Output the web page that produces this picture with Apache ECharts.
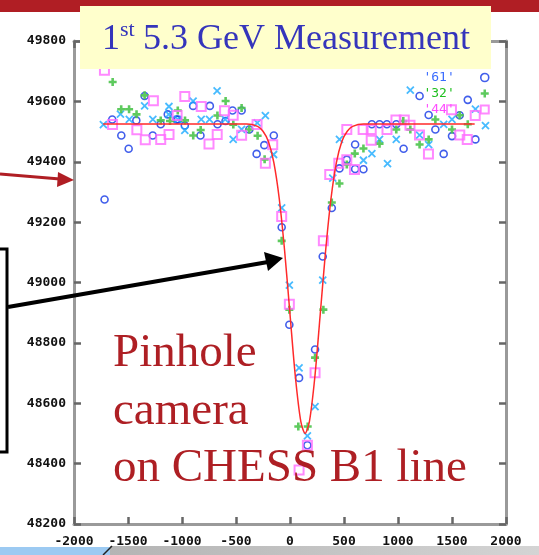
<!DOCTYPE html>
<html><head><meta charset="utf-8">
<script src="https://cdn.jsdelivr.net/npm/echarts@6/dist/echarts.min.js"></script>
<style>html,body{margin:0;padding:0;background:#fff}#c{width:539px;height:555px}</style>
</head><body><div id="c"></div>
<script>
// ---- data ----
const xTicks = [-2000, -1500, -1000, -500, 0, 500, 1000, 1500, 2000];
const yTicks = [48200, 48400, 48600, 48800, 49000, 49200, 49400, 49600, 49800];
const legendNames = ["'61'", "'32'", "'44'"];

const s61 = [ // blue circles
  [-1717,49275],[-1346,49618],[-1132,49557],[-1646,49540],[-1423,49537],[-1197,49524],[-1052,49540],
  [-1562,49487],[-1271,49487],[-1494,49443],[-897,49585],[-742,49585],[-532,49570],[-448,49570],
  [-1037,49540],[-671,49524],[-597,49535],[-974,49520],[-829,49487],[-238,49455],[-150,49487],
  [-309,49426],[-377,49507],[-77,49183],[-6,48860],[84,48684],[161,48461],[232,48778],[303,49086],
  [387,49247],[458,49378],[526,49407],[603,49376],[680,49375],[603,49457],[758,49524],[829,49524],
  [897,49524],[984,49524],[1052,49443],[1200,49618],[1646,49605],[1284,49555],[1571,49554],
  [1346,49507],[1500,49485],[1717,49474],[1423,49426]
];
const s32 = [ // green plus
  [-1642,49664],[-1346,49620],[-1563,49574],[-1490,49574],[-1421,49557],[-1197,49537],[-1111,49535],
  [-1039,49570],[-972,49537],[-596,49601],[-448,49578],[-672,49553],[-525,49523],[-377,49507],
  [-896,49487],[-827,49505],[-300,49486],[-235,49408],[-77,49138],[-6,48910],[77,48523],[164,48523],
  [232,48751],[309,48910],[387,49265],[458,49328],[526,49391],[600,49427],[680,49444],[829,49460],
  [984,49507],[1114,49507],[1049,49535],[1346,49540],[1500,49507],[1646,49524],[1284,49474],
  [1200,49457],[1571,49554]
];
const s44 = [ // magenta squares
  [-1718,49703],[-1265,49602],[-1045,49553],[-1643,49523],[-1418,49506],[-1340,49473],[-1197,49474],
  [-1120,49490],[-974,49616],[-822,49583],[-606,49569],[-526,49554],[-305,49523],[-674,49490],
  [-448,49488],[-750,49459],[-160,49456],[-228,49395],[-77,49219],[-6,48928],[84,48379],[161,48461],
  [232,48701],[309,49138],[368,49358],[452,49395],[526,49507],[526,49407],[597,49374],[677,49507],
  [752,49507],[752,49471],[898,49507],[981,49538],[1058,49538],[1495,49572],[1715,49553],[1111,49521],
  [1199,49489],[1572,49489],[1641,49474],[1282,49426]
];
const sX = [ // cyan crosses
  [-1346,49585],[-1121,49583],[-1570,49558],[-1728,49523],[-1488,49540],[-1270,49540],[-675,49635],
  [-897,49601],[-228,49553],[-1037,49540],[-822,49540],[-745,49540],[-600,49540],[-303,49529],
  [-974,49504],[-448,49507],[-526,49474],[-152,49424],[-77,49247],[-6,48991],[84,48717],[161,48492],
  [232,48589],[303,49008],[396,49346],[680,49405],[758,49427],[903,49394],[1114,49637],[829,49474],
  [984,49474],[458,49474],[1717,49574],[1423,49524],[1500,49540],[1810,49520],[1200,49488],[1284,49457],
  [-1123,49557]
];
const fitX = [-1730,-800,-400,-300,-250,-200,-150,-100,-50,0,50,100,140,180,230,280,330,380,430,480,530,580,680,1000,1710];
const fitY = [49525,49525,49525,49517,49501,49467,49398,49279,49106,48895,48687,48540,48500,48540,48687,48895,49106,49279,49398,49467,49501,49517,49525,49525,49525];

// ---- chart ----
const chart = echarts.init(document.getElementById('c'), null, {renderer:'canvas'});
const fit = fitX.map((x,i)=>[x,fitY[i]]);
const PLUS = 'path://M5,0L5,10M0,5L10,5';
const CROSS = 'path://M0,0L10,10M10,0L0,10';
const SQUARE = 'path://M0,0L10,0L10,10L0,10Z';
const lblFont = {fontFamily:'DejaVu Sans Mono', fontSize:13, color:'#111', fontWeight:'bold'};
const axLine = {show:true, onZero:false, lineStyle:{color:'#9a9a9a', width:3}};
const axTick = {show:true, inside:true, length:7, lineStyle:{color:'#666', width:2.5}};
const C61='#1236e6', C32='#4cc44c', C44='#ff6cff', CX='#1aaaff';

chart.setOption({
  animation:false,
  backgroundColor:'#ffffff',
  grid:{left:74, right:33, top:41, bottom:31, containLabel:false},
  xAxis:[
    {type:'value', min:xTicks[0], max:xTicks[xTicks.length-1], interval:500, position:'bottom',
     axisLine:axLine, axisTick:axTick, splitLine:{show:false},
     axisLabel:Object.assign({margin:11, formatter:v=>String(v)}, lblFont)},
    {type:'value', min:xTicks[0], max:xTicks[xTicks.length-1], interval:500, position:'top',
     axisLine:axLine, axisTick:axTick, splitLine:{show:false}, axisLabel:{show:false}}
  ],
  yAxis:[
    {type:'value', min:yTicks[0], max:yTicks[yTicks.length-1], interval:200, position:'left',
     axisLine:axLine, axisTick:axTick, splitLine:{show:false},
     axisLabel:Object.assign({margin:8, formatter:v=>String(v)}, lblFont)},
    {type:'value', min:yTicks[0], max:yTicks[yTicks.length-1], interval:200, position:'right',
     axisLine:axLine, axisTick:axTick, splitLine:{show:false}, axisLabel:{show:false}}
  ],
  legend:{
    orient:'vertical', right:44, top:66, align:'right', itemWidth:50, itemHeight:8, itemGap:3,
    selectedMode:false, symbolKeepAspect:true, textStyle:{fontFamily:'DejaVu Sans Mono', fontSize:13},
    data:[
      {name:legendNames[0], icon:'circle', textStyle:{color:'#3a6cff'}, itemStyle:{color:'transparent', borderColor:C61, borderWidth:1.6}},
      {name:legendNames[1], icon:PLUS, textStyle:{color:'#1fbf1f'}, itemStyle:{color:'transparent', borderColor:C32, borderWidth:2.5}},
      {name:legendNames[2], icon:SQUARE, textStyle:{color:'#ff4cff'}, itemStyle:{color:'transparent', borderColor:C44, borderWidth:2}}
    ]
  },
  series:[
    {name:legendNames[0], type:'scatter', data:s61, symbol:'circle', symbolSize:7,
     itemStyle:{color:'transparent', borderColor:C61, borderWidth:1.6}, z:3},
    {name:'x', type:'scatter', data:sX, symbol:CROSS, symbolSize:7,
     itemStyle:{color:'transparent', borderColor:CX, borderWidth:1.8}, z:3},
    {name:legendNames[1], type:'scatter', data:s32, symbol:PLUS, symbolSize:8,
     itemStyle:{color:'transparent', borderColor:C32, borderWidth:2.6, opacity:0.9}, z:3},
    {name:legendNames[2], type:'scatter', data:s44, symbol:'rect', symbolSize:9,
     itemStyle:{color:'transparent', borderColor:C44, borderWidth:2}, z:3},
    {name:'fit', type:'line', data:fit, smooth:0.3, symbol:'none',
     lineStyle:{color:'#ff2a2a', width:1.5}, z:4}
  ],
  graphic:[
    {type:'rect', z:100, shape:{x:0,y:0,width:539,height:12}, style:{fill:'#b01e24'}},
    {type:'rect', z:100, shape:{x:80,y:6,width:411,height:63}, style:{fill:'#ffffcc'}},
    {type:'text', z:101, style:{x:102, y:40, text:'1', font:'36px "Liberation Serif"', fill:'#3535bb', verticalAlign:'middle', textVerticalAlign:'middle'}},
    {type:'text', z:101, style:{x:120, y:30, text:'st', font:'22px "Liberation Serif"', fill:'#3535bb', verticalAlign:'middle', textVerticalAlign:'middle'}},
    {type:'text', z:101, style:{x:143, y:40, text:'5.3 GeV Measurement', font:'36px "Liberation Serif"', fill:'#3535bb', verticalAlign:'middle', textVerticalAlign:'middle'}},
    {type:'text', z:101, style:{x:113, y:354, text:'Pinhole', font:'47px "Liberation Serif"', fill:'#ae1f24', verticalAlign:'middle', textVerticalAlign:'middle'}},
    {type:'text', z:101, style:{x:113, y:412, text:'camera', font:'47px "Liberation Serif"', fill:'#ae1f24', verticalAlign:'middle', textVerticalAlign:'middle'}},
    {type:'text', z:101, style:{x:113, y:469, text:'on CHESS B1 line', font:'47px "Liberation Serif"', fill:'#ae1f24', verticalAlign:'middle', textVerticalAlign:'middle'}},
    // red arrow
    {type:'line', z:101, shape:{x1:0,y1:174,x2:60,y2:179}, style:{stroke:'#b01e24', lineWidth:3}},
    {type:'polygon', z:101, shape:{points:[[74,180],[58,172],[57,187]]}, style:{fill:'#b01e24'}},
    // black box and arrow
    {type:'rect', z:101, shape:{x:-10,y:249,width:17,height:203}, style:{fill:'none', stroke:'#000', lineWidth:3}},
    {type:'line', z:101, shape:{x1:8,y1:307,x2:268,y2:262}, style:{stroke:'#000', lineWidth:4}},
    {type:'polygon', z:101, shape:{points:[[283,258],[264,252],[268,271]]}, style:{fill:'#000'}},
    // bottom strip
    {type:'rect', z:101, shape:{x:0,y:547,width:110,height:8}, style:{fill:'#9ccaf2'}},
    {type:'rect', z:101, shape:{x:110,y:546,width:429,height:9}, style:{fill:new echarts.graphic.LinearGradient(0,0,1,0,[{offset:0,color:'#b4b4b4'},{offset:1,color:'#d4d4d4'}])}},
    {type:'line', z:102, shape:{x1:103,y1:555,x2:112,y2:546}, style:{stroke:'#222', lineWidth:1.5}}
  ]
});
</script></body></html>
